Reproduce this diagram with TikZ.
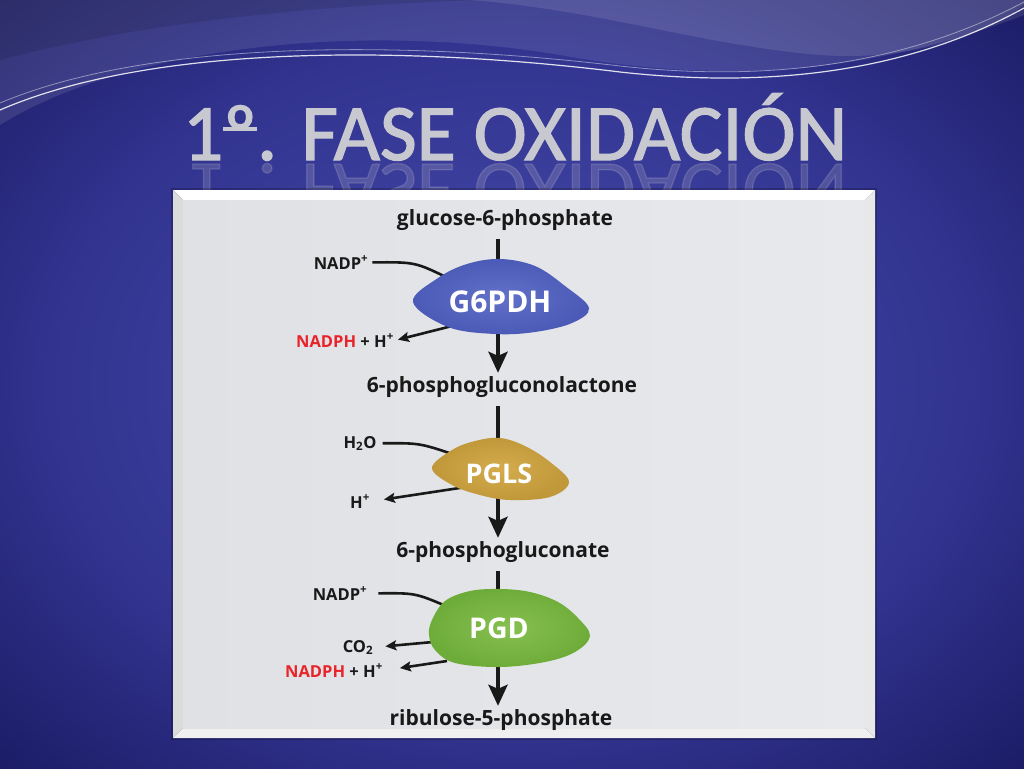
\documentclass[tikz,border=0pt]{standalone}
\usepackage{fontspec}
\setmainfont{Open Sans}
\newfontfamily\titlefont{Carlito}[FakeBold=1.6]
\newfontfamily\labfont{Open Sans}
\usetikzlibrary{arrows.meta}
\definecolor{bgin}{RGB}{74,76,174}
\definecolor{bgmid}{RGB}{50,52,144}
\definecolor{bgout}{RGB}{20,20,88}
\definecolor{txt}{RGB}{25,25,25}
\definecolor{nred}{RGB}{232,36,42}
\definecolor{titlegray}{RGB}{200,201,208}
\definecolor{panelface}{RGB}{224,225,228}
\definecolor{panelface2}{RGB}{232,233,236}
\definecolor{enzblue}{RGB}{74,90,182}
\definecolor{enzblueL}{RGB}{98,112,200}
\definecolor{enzgold}{RGB}{192,152,58}
\definecolor{enzgoldL}{RGB}{212,172,78}
\definecolor{enzgreen}{RGB}{110,172,58}
\definecolor{enzgreenL}{RGB}{135,192,80}
\pgfdeclareradialshading{bgshade}{\pgfpoint{0bp}{0bp}}{color(0bp)=(bgin); color(22bp)=(bgmid); color(40bp)=(bgout); color(50bp)=(bgout)}
\newcommand{\ordo}{{\setbox0\hbox{º}\rlap{\rule[0.36em]{\wd0}{0.05em}}\box0}}
\newcommand{\titletext}{1\ordo. FASE OXIDACIÓN}
\begin{document}
\begin{tikzpicture}[x=1pt,y=-1pt,
  big/.style={font=\labfont\bfseries\fontsize{21}{25}\selectfont, text=txt, inner sep=1pt, anchor=base},
  small/.style={font=\labfont\bfseries\fontsize{16.5}{19}\selectfont, text=txt, inner sep=1pt, anchor=base},
  enz/.style={font=\labfont\bfseries\fontsize{#1}{34}\selectfont, text=white, inner sep=1pt, anchor=base},
  titlestyle/.style={font=\titlefont\fontsize{80}{90}\selectfont, inner sep=0pt, anchor=base},
  mainline/.style={line width=4pt, draw=txt},
  mainarrow/.style={mainline, -{Stealth[length=21pt,width=19pt,inset=4pt]}},
  sideline/.style={line width=2.6pt, draw=txt},
  sidearrow/.style={sideline, -{Stealth[length=11pt,width=10pt,inset=2pt]}},
]
\useasboundingbox (0,0) rectangle (1024,768);
% background
\shade[shading=bgshade] (0,0) rectangle (1024,768);
% top waves
\fill[white, opacity=0.10] (0,125) .. controls (120,50) and (350,20) .. (560,55) .. controls (700,80) and (850,82) .. (1024,15) -- (1024,0) -- (0,0) -- cycle;
\fill[white, opacity=0.10] (470,0) .. controls (600,10) and (700,45) .. (820,55) .. controls (920,62) and (990,30) .. (1024,5) -- (1024,0) -- cycle;
\fill[black, opacity=0.10] (0,0) -- (480,0) .. controls (330,5) and (150,20) .. (0,60) -- cycle;
\draw[white, opacity=0.85, line width=1.2pt] (0,110) .. controls (150,45) and (400,45) .. (620,72) .. controls (800,92) and (930,60) .. (1024,8);
\draw[white, opacity=0.45, line width=0.8pt] (0,103) .. controls (150,40) and (400,40) .. (620,66) .. controls (800,86) and (930,52) .. (1024,2);
% title reflection
\begin{scope}[shift={(515,164)}, yscale=-1]
  \node[titlestyle, transform shape, text=titlegray, opacity=0.2] (titlerefl) at (0,0) {\titletext};
\end{scope}
% title
\node[titlestyle, text=titlegray] (title) at (515,160) {\titletext};
% panel
\fill[black, opacity=0.22] (171,188) rectangle (877,740);
\fill[white] (173,190) -- (875,190) -- (865,200) -- (183,200) -- cycle;
\fill[black!14] (173,190) -- (183,200) -- (183,728) -- (173,738) -- cycle;
\fill[black!9] (875,190) -- (875,738) -- (865,728) -- (865,200) -- cycle;
\fill[black!6] (173,738) -- (875,738) -- (865,728) -- (183,728) -- cycle;
\shade[left color=panelface, right color=panelface2] (183,200) rectangle (865,728);
% metabolite labels
\node[big] (glc) at (505,225) {glucose-6-phosphate};
\node[big] (pgl) at (502,392) {6-phosphogluconolactone};
\node[big] (pgn) at (503,557) {6-phosphogluconate};
\node[big] (rib) at (501,725) {ribulose-5-phosphate};
% cofactor labels
\node[small] (n1) at (341,269) {NADP\textsuperscript{+}};
\node[small] (h1) at (345,347) {\textcolor{nred}{NADPH} + H\textsuperscript{+}};
\node[small] (h2o) at (360,448) {H\textsubscript{2}O};
\node[small] (hp) at (360,508) {H\textsuperscript{+}};
\node[small] (n2) at (340,600) {NADP\textsuperscript{+}};
\node[small] (co2) at (358,652) {CO\textsubscript{2}};
\node[small] (h3) at (334,677) {\textcolor{nred}{NADPH} + H\textsuperscript{+}};
% blob attachment points
\coordinate (g6top) at (498,262);
\coordinate (g6bot) at (498,330);
\coordinate (g6in) at (448,278);
\coordinate (g6out) at (452,326);
\coordinate (pgtop) at (498,442);
\coordinate (pgbot) at (498,495);
\coordinate (pgin) at (458,456);
\coordinate (pgout) at (466,487);
\coordinate (pdtop) at (498,592);
\coordinate (pdbot) at (498,664);
\coordinate (pdin) at (446,606);
\coordinate (pdco) at (433,642);
\coordinate (pdout) at (447,661);
% connectors
\draw[mainline, shorten <=8pt] (glc.south -| g6top) -- (g6top);
\draw[mainarrow, shorten >=2pt] (g6bot) -- (pgl.north -| g6bot);
\draw[mainline, shorten <=8pt] (pgl.south -| pgtop) -- (pgtop);
\draw[mainarrow, shorten >=2pt] (pgbot) -- (pgn.north -| pgbot);
\draw[mainline, shorten <=8pt] (pgn.south -| pdtop) -- (pdtop);
\draw[mainarrow, shorten >=2pt] (pdbot) -- (rib.north -| pdbot);
\draw[sideline, shorten <=3pt] (n1.east) .. controls (415,262) .. (g6in);
\draw[sidearrow, shorten >=3pt] (g6out) -- (h1.east);
\draw[sideline, shorten <=5pt] (h2o.east) .. controls (420,443) .. (pgin);
\draw[sidearrow, shorten >=13pt] (pgout) -- (hp.east);
\draw[sideline, shorten <=10pt] (n2.east) .. controls (415,593) .. (pdin);
\draw[sidearrow, shorten >=11pt] (pdco) -- (co2.east);
\draw[sidearrow, shorten >=16pt] (pdout) -- (h3.east);
% enzyme blobs
\shade[inner color=enzblueL, outer color=enzblue] plot[smooth cycle, tension=0.6] coordinates {(413,302) (438,278) (467,264) (500,259) (535,266) (565,286) (589,308) (572,323) (535,332) (495,334) (448,327)};
\shade[inner color=enzgoldL, outer color=enzgold] plot[smooth cycle, tension=0.6] coordinates {(432,468) (452,450) (475,441) (500,438) (525,446) (550,462) (569,482) (550,497) (510,500) (480,495) (452,485)};
\shade[inner color=enzgreenL, outer color=enzgreen] plot[smooth cycle, tension=0.6] coordinates {(432,620) (445,601) (470,591) (500,589) (530,592) (558,602) (578,618) (590,636) (575,652) (545,662) (500,667) (455,663) (435,650) (429,635)};
% enzyme labels
\node[enz=30] (g6pdh) at (500,312) {G6PDH};
\node[enz=27] (pgls) at (499,483) {PGLS};
\node[enz=28.5] (pgd) at (499,638) {PGD};
\end{tikzpicture}
\end{document}
